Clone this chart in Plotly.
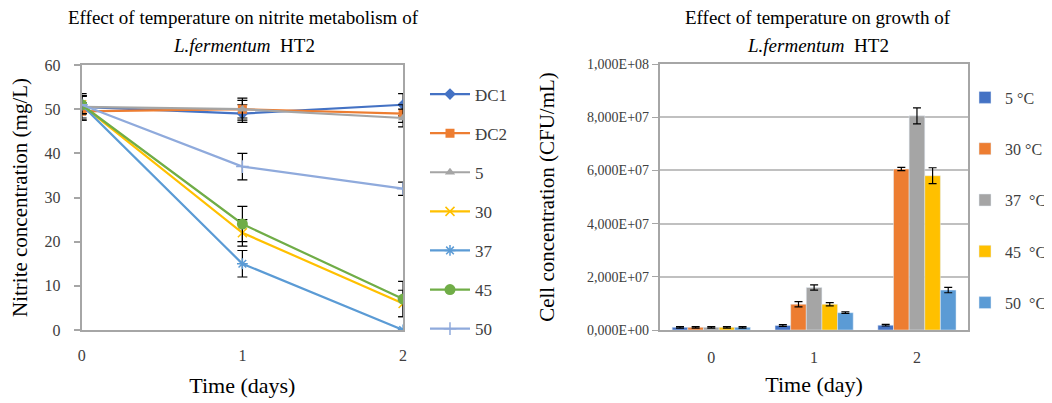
import plotly.graph_objects as go

days = [0, 1, 2]
nitrite_names = ["ĐC1", "ĐC2", "5", "30", "37", "45", "50"]
nitrite_vals = [
    [50.5, 49, 51],
    [49.5, 50, 49],
    [50.5, 50, 48],
    [51, 22, 6],
    [51, 15, 0],
    [51, 24, 7],
    [51, 37, 32],
]
nitrite_err = [
    [3, 2, 2.5],
    [2, 2, 2],
    [2.5, 2.5, 2],
    [2, 3, 3],
    [2, 3, 0],
    [2, 4, 4],
    [2, 3, 1.5],
]
nitrite_colors = ["#4472C4", "#ED7D31", "#A5A5A5", "#FFC000", "#5B9BD5", "#70AD47", "#8FAADC"]
nitrite_symbols = ["diamond", "square", "triangle-up", "x-thin-open", "asterisk-open", "circle", "cross-thin-open"]

growth_cats = ["0", "1", "2"]
growth_names = ["5 °C", "30 °C", "37  °C", "45  °C", "50  °C"]
growth_vals = [
    [1.0e6, 1.7e6, 1.8e6],
    [1.0e6, 9.7e6, 6.05e7],
    [1.0e6, 1.6e7, 8.05e7],
    [1.0e6, 9.7e6, 5.8e7],
    [1.0e6, 6.5e6, 1.5e7],
]
growth_err = [
    [0.3e6, 0.3e6, 0.3e6],
    [0.3e6, 1.0e6, 0.6e6],
    [0.3e6, 1.0e6, 3.0e6],
    [0.3e6, 0.6e6, 3.0e6],
    [0.3e6, 0.3e6, 1.0e6],
]
growth_colors = ["#4472C4", "#ED7D31", "#A5A5A5", "#FFC000", "#5B9BD5"]
growth_ticks = [0, 2e7, 4e7, 6e7, 8e7, 1e8]
growth_ticktext = ["0,000E+00", "2,000E+07", "4,000E+07", "6,000E+07", "8,000E+07", "1,000E+08"]

FONT = "Liberation Serif"
AXC = "#A6A6A6"
TXT = "#404040"

# The page body has an 8px margin, so the figure is sized to the visible area
W, H, OFF = 1044, 395, 8


def fx(sx):
    return (sx - OFF) / W


def fy(sy):
    return 1 - (sy - OFF) / H


fig = go.Figure()

for i, name in enumerate(nitrite_names):
    sym = nitrite_symbols[i]
    open_sym = sym.endswith("open")
    fig.add_trace(go.Scatter(
        x=days, y=nitrite_vals[i], name=name, mode="lines+markers",
        xaxis="x", yaxis="y", legend="legend", legendgroup="n%d" % i,
        line=dict(color=nitrite_colors[i], width=2.2),
        marker=dict(symbol=sym, size=11 if i == 5 else 9, color=nitrite_colors[i],
                    line=dict(color=nitrite_colors[i], width=1.5 if open_sym else 0)),
        error_y=dict(type="data", array=nitrite_err[i], color="black", thickness=1.2, width=5),
    ))

for i, name in enumerate(growth_names):
    fig.add_trace(go.Bar(
        x=growth_cats, y=growth_vals[i], name=name,
        xaxis="x2", yaxis="y2", legend="legend2", legendgroup="g%d" % i,
        marker=dict(color=growth_colors[i]),
        error_y=dict(type="data", array=growth_err[i], color="black", thickness=1.2, width=4),
    ))

title_font = dict(size=19, color="black", family=FONT)

fig.update_layout(
    width=W, height=H,
    margin=dict(l=0, r=0, t=0, b=0),
    paper_bgcolor="white", plot_bgcolor="white",
    font=dict(family=FONT, size=14, color=TXT),
    barmode="group", bargap=0.24, bargroupgap=0,
    xaxis=dict(domain=[fx(82), fx(405)], range=[0, 2], tickvals=[0, 1, 2], anchor="y", automargin=False,
               showgrid=False, zeroline=False, showline=True, linecolor=AXC, linewidth=2,
               mirror=True, ticks="", ticklabelstandoff=10,
               tickfont=dict(size=16, color=TXT),
               title=dict(text="Time (days)", font=dict(size=22, color="black"), standoff=14)),
    yaxis=dict(domain=[fy(330), fy(65)], range=[0, 60], tickvals=[0, 10, 20, 30, 40, 50, 60], anchor="x",
               automargin=False,
               showgrid=False, zeroline=False, showline=True, linecolor=AXC, linewidth=2,
               mirror=True, ticks="outside", ticklen=6, tickcolor=AXC, tickwidth=1.5,
               ticklabelstandoff=10,
               tickfont=dict(size=16, color=TXT),
               title=dict(text="Nitrite concentration (mg/L)", font=dict(size=21, color="black"), standoff=19)),
    xaxis2=dict(domain=[fx(663), fx(973)], anchor="y2", automargin=False, showgrid=False, zeroline=False,
                showline=True, linecolor=AXC, linewidth=2, mirror=True, ticks="",
                ticklabelstandoff=12,
                tickfont=dict(size=16, color=TXT),
                title=dict(text="Time (day)", font=dict(size=22, color="black"), standoff=11)),
    yaxis2=dict(domain=[fy(330), fy(64)], anchor="x2", automargin=False, range=[0, 1e8],
                tickvals=growth_ticks, ticktext=growth_ticktext,
                showgrid=True, gridcolor="#C0C0C0", gridwidth=1.5, zeroline=False,
                showline=True, linecolor=AXC, linewidth=2, mirror=True,
                ticks="outside", ticklen=6, tickcolor=AXC,
                tickfont=dict(size=14, color=TXT),
                title=dict(text="Cell concentration (CFU/mL)", font=dict(size=21, color="black"), standoff=27)),
    legend=dict(x=fx(427), y=fy(76.5), xanchor="left", yanchor="top",
                font=dict(size=17, color=TXT), tracegroupgap=14,
                itemwidth=40, bgcolor="rgba(0,0,0,0)"),
    legend2=dict(x=fx(970), y=fy(80.5), xanchor="left", yanchor="top",
                 font=dict(size=16, color=TXT), tracegroupgap=27.5,
                 itemwidth=30, bgcolor="rgba(0,0,0,0)"),
    annotations=[
        dict(text="Effect of temperature on nitrite metabolism of",
             x=fx(245), y=fy(17), xref="paper", yref="paper", xanchor="center", yanchor="middle",
             showarrow=False, font=title_font),
        dict(text="<i>L.fermentum</i>  HT2",
             x=fx(245), y=fy(45), xref="paper", yref="paper", xanchor="center", yanchor="middle",
             showarrow=False, font=title_font),
        dict(text="Effect of temperature on growth of",
             x=fx(822), y=fy(17), xref="paper", yref="paper", xanchor="center", yanchor="middle",
             showarrow=False, font=title_font),
        dict(text="<i>L.fermentum</i>  HT2",
             x=fx(822), y=fy(45), xref="paper", yref="paper", xanchor="center", yanchor="middle",
             showarrow=False, font=title_font),
    ],
)

fig.write_html("out.html")
